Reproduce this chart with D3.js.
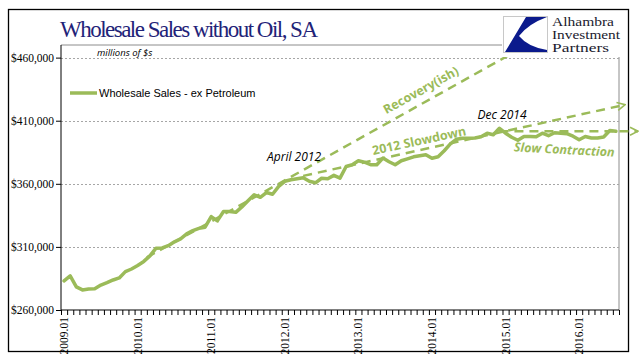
<!DOCTYPE html>
<html><head><meta charset="utf-8">
<script src="https://cdn.jsdelivr.net/npm/d3@7"></script>
<style>
html,body{margin:0;padding:0;background:#fff;}
svg{display:block;}
</style></head>
<body>
<svg id="c" width="641" height="358"></svg>
<script>
// ---- data ----
const startYear = 2009;
const months = [];
for (let i = 0; i < 91; i++) {
  const yy = startYear + Math.floor(i / 12), mm = (i % 12) + 1;
  months.push(yy + "." + String(mm).padStart(2, "0"));
}
const salesExPetroleum = [
  283000, 287000, 278300, 275900, 276700, 276900, 279800, 281700, 283800, 285400, 290400, 292500,
  295300, 298500, 302900, 309000, 309200, 311000, 314000, 316300, 320300, 322900, 324700, 325600,
  334000, 330600, 338000, 338000, 337400, 341700, 346500, 351300, 349300, 353100, 351700, 358000,
  362000, 363200, 364000, 364800, 362000, 360800, 364400, 364000, 366700, 364500, 373700, 375100,
  378300, 377100, 375100, 375100, 380400, 377500, 375100, 378300, 379800, 381400, 382200, 383000,
  380200, 381400, 386200, 391700, 395300, 396100, 396100, 396300, 397300, 400100, 398900, 404000,
  400100, 396900, 394500, 397500, 397500, 397300, 400100, 398100, 400500, 400100, 399700, 397700,
  394900, 397500, 396300, 396300, 397100, 402300, 401700
];
const yTicks = [260000, 310000, 360000, 410000, 460000];
const xLabelEvery = 12;
// trend lines: [start index, start value, end index, end value]
const trendNames = ["Recovery(ish)", "2012 Slowdown", "Slow Contraction"];
const trendStart = [[13.5, 301700], [39, 366300], [71, 401700]];
const trendEnd   = [[83.8, 492500], [91.5, 422700], [93.6, 401700]];
const annotations = ["April 2012", "Dec 2014"];
const logoLines = ["Alhambra", "Investment", "Partners"];

// ---- chart ----
const svg = d3.select("#c");
const L = 61, R = 619, T = 45, B = 310;
const green = "#9BBB59";

const x = d3.scaleBand().domain(months).range([L, R]).padding(0);
const xi = d3.scaleLinear().domain([-0.5, months.length - 0.5]).range([L, R]);
const y = d3.scaleLinear().domain([260000, 470000]).range([B, T]);

// outer frame
svg.append("rect").attr("x", 8.5).attr("y", 9.5).attr("width", 620).attr("height", 342)
  .attr("fill", "#fff").attr("stroke", "#000").attr("stroke-width", 1.3);

// plot frame (grey top/right)
svg.append("path").attr("d", `M${L},${T}H${R}V${B}`).attr("fill", "none")
  .attr("stroke", "#8c8c8c").attr("stroke-width", 1);

// gridlines
svg.append("g").selectAll("line").data(yTicks.slice(1)).join("line")
  .attr("x1", L).attr("x2", R).attr("y1", d => Math.round(y(d)) + 0.5).attr("y2", d => Math.round(y(d)) + 0.5)
  .attr("stroke", "#a6a6a6").attr("stroke-dasharray", "2,2").attr("stroke-width", 1);

// y axis
const yAxis = svg.append("g").attr("transform", `translate(${L},0)`)
  .call(d3.axisLeft(y).tickValues(yTicks).tickSize(5).tickPadding(2)
    .tickFormat(d => "$" + d3.format(",")(d)));
yAxis.select(".domain").attr("stroke", "#000").attr("d", `M0,${T}V${B}`);
yAxis.selectAll("text").attr("font-family", "Liberation Serif").attr("font-size", 11.5).attr("fill", "#000");

// x axis ticks at category boundaries
const xTickAxis = svg.append("g").attr("transform", `translate(0,${B})`)
  .call(d3.axisBottom(xi).tickValues(d3.range(-0.5, months.length, 1)).tickSize(5).tickFormat(""));
xTickAxis.select(".domain").attr("stroke", "#000").attr("d", `M${L},0H${R}`);
// x labels
svg.append("g").selectAll("text").data(months.filter((m, i) => i % xLabelEvery === 0)).join("text")
  .attr("transform", d => `translate(${x(d) + x.bandwidth() / 2 + 4},${B + 7}) rotate(-90)`)
  .attr("text-anchor", "end")
  .attr("font-family", "Liberation Serif").attr("font-size", 11.5).attr("fill", "#000")
  .text(d => d);

// arrow marker
const defs = svg.append("defs");
defs.append("marker").attr("id", "arr").attr("viewBox", "0 0 10 10").attr("refX", 9).attr("refY", 5)
  .attr("markerWidth", 4).attr("markerHeight", 4).attr("orient", "auto").attr("markerUnits", "strokeWidth")
  .append("path").attr("d", "M1,1L9,5L1,9").attr("fill", "none").attr("stroke", green).attr("stroke-width", 1.6);

// trend lines
svg.append("g").selectAll("line").data(trendNames).join("line")
  .attr("x1", (d, i) => xi(trendStart[i][0])).attr("y1", (d, i) => y(trendStart[i][1]))
  .attr("x2", (d, i) => xi(trendEnd[i][0])).attr("y2", (d, i) => y(trendEnd[i][1]))
  .attr("stroke", green).attr("stroke-width", 2.5).attr("stroke-dasharray", "9,6")
  .attr("marker-end", "url(#arr)");

// data line
const line = d3.line().x((d, i) => x(months[i]) + x.bandwidth() / 2).y(d => y(d));
svg.append("path").datum(salesExPetroleum).attr("d", line).attr("fill", "none")
  .attr("stroke", green).attr("stroke-width", 3.5).attr("stroke-linejoin", "round").attr("stroke-linecap", "round");

// trend labels
const tl = svg.append("g").attr("font-family", "Open Sans, Liberation Sans").attr("font-weight", "bold")
  .attr("font-size", 12.5).attr("fill", green);
tl.append("text").attr("transform", "translate(423,94) rotate(-29)").attr("text-anchor", "middle").text(trendNames[0]);
tl.append("text").attr("transform", "translate(420,145) rotate(-12)").attr("text-anchor", "middle").text(trendNames[1]);
tl.append("text").attr("transform", "translate(564,154) rotate(3)").attr("text-anchor", "middle")
  .attr("font-style", "italic").text(trendNames[2]);

// annotations
const an = svg.append("g").attr("font-family", "Open Sans, Liberation Sans").attr("font-style", "italic")
  .attr("font-size", 12).attr("fill", "#000");
an.append("text").attr("x", 294).attr("y", 161).attr("text-anchor", "middle").text(annotations[0]);
an.append("text").attr("x", 502).attr("y", 119).attr("text-anchor", "middle").text(annotations[1]);

// title
svg.append("text").attr("x", 60).attr("y", 37).attr("font-family", "Liberation Serif")
  .attr("font-size", 23).attr("fill", "#1f2378").attr("textLength", 258).text("Wholesale Sales without Oil, SA");

// units
svg.append("text").attr("x", 97).attr("y", 56).attr("font-family", "Open Sans, Liberation Sans")
  .attr("font-style", "italic").attr("font-size", 9.5).attr("fill", "#000").text("millions of $s");

// legend
svg.append("line").attr("x1", 70).attr("x2", 97).attr("y1", 93).attr("y2", 93)
  .attr("stroke", green).attr("stroke-width", 3.5);
svg.append("text").attr("x", 99).attr("y", 97).attr("font-family", "Liberation Sans").attr("font-size", 11)
  .attr("fill", "#000").text("Wholesale Sales - ex Petroleum");

// logo
const lg = svg.append("g");
lg.append("rect").attr("x", 502).attr("y", 15).attr("width", 119).attr("height", 42).attr("fill", "#fff");
lg.append("rect").attr("x", 503.5).attr("y", 16.5).attr("width", 44).attr("height", 36)
  .attr("fill", "#fff").attr("stroke", "#c8c8c8").attr("stroke-width", 1);
lg.append("path").attr("d", "M526,17 L547,17 Q528,24 519,36 Q528,47 547,50 L547,52 L505,52 Z")
  .attr("fill", "#0b1a8c");
const logoWidths = [62, 68, 57];
lg.append("g").attr("font-family", "Liberation Serif").attr("font-size", 12).attr("fill", "#1a1a2e")
  .selectAll("text").data(logoLines).join("text")
  .attr("x", 552).attr("y", (d, i) => 26 + i * 13).attr("textLength", (d, i) => logoWidths[i])
  .attr("lengthAdjust", "spacingAndGlyphs").text(d => d);
</script>
</body></html>
